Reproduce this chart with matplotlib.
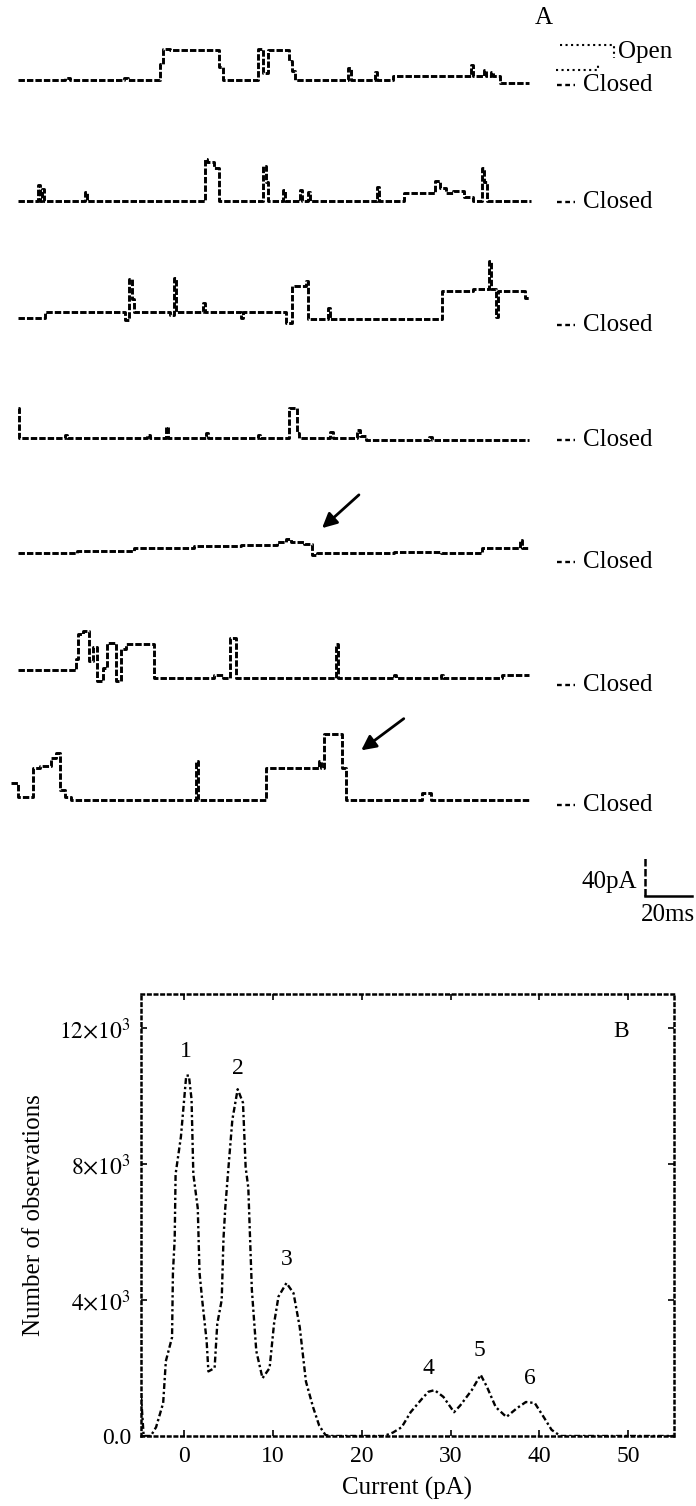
import matplotlib.pyplot as plt

plt.rcParams['font.family'] = ['Liberation Serif', 'DejaVu Serif']
plt.rcParams['mathtext.fontset'] = 'stix'

# ---- panel A: single channel traces (time in ms, current in pA above closed level)
t1 = [0, 20, 22, 45, 47, 60.4, 61.5, 64.7, 85.5, 87.2, 102.1, 104.3, 106.4, 115.3, 116.6,
      117.9, 140.4, 141.5, 151.9, 152.8, 159.6, 192.8, 193.6, 198.3, 199.2, 201.3, 202, 205.1, 217.4]
i1 = [-1, 1, -1, 1, -1, 15, 31, 30, 12, -1, 31, 6, 30, 18, 8,
      -1, 11, -1, 7, -1, 3, 14, 3, 9, 3, 7, 3, -4, -4]

t2 = [0, 8.5, 9.3, 10.2, 11, 28.5, 29.3, 79.6, 80.4, 83.4, 85.5, 104.3, 105.5, 106.4, 112.8,
      113.6, 120, 120.8, 123.4, 124.2, 152.8, 153.6, 164.3, 177.4, 179.6, 182.1, 185.1, 189.8,
      193.6, 197.4, 198.3, 199.6, 218.3]
i2 = [0, 16, 0, 12, 0, 9, 0, 43, 40, 34, 0, 36, 20, 0, 11,
      0, 11, 0, 9, 0, 14, 0, 8, 21, 13, 8, 10, 4,
      0, 34, 20, 0, 0]

t3 = [0, 11.5, 45.5, 47.2, 48.5, 49.4, 64.7, 66.4, 67.2, 78.7, 79.5, 94.9, 95.7, 114, 116.6,
      122.6, 123.4, 131.9, 132.8, 180.4, 193.6, 200.4, 201.3, 203.4, 204.4, 215.7, 217.4]
i3 = [0, 6, -2, 40, 20, 6, 3, 41, 6, 15, 6, 0, 6, -5, 33,
      38, -1, 10, -1, 28, 30, 58, 30, 1, 28, 21, 21]

t4 = [0, 0.6, 20, 20.8, 55, 56, 63, 63.8, 80, 81, 102, 103, 115.3, 118.7, 119.5, 132.8, 134,
      144.3, 145.5, 148.1, 175, 176, 217.4]
i4 = [31, 0, 3, 0, 3, 0, 11, 0, 5, 0, 3, 0, 31, 5, 0, 6, 0,
      8, 2, -2, 1, -2, -2]

t5 = [0, 25, 49.4, 75, 95, 110.2, 114, 116, 121.7, 125.1, 127.2, 160, 180, 197.4, 213.6, 214.4, 217.4]
i5 = [0, 2, 5, 7, 8, 11, 14, 11, 9, -2, 0, 1, 0, 5, 13, 5, 5]

t6 = [0, 24.7, 25.5, 27.7, 30.2, 31.9, 33.6, 36.2, 37.9, 41.7, 43.8, 46, 57.9, 83.4, 87.2,
      90.2, 92.8, 135.3, 136.2, 160, 161, 180, 181, 206, 217.4]
i6 = [8, 20, 45, 48, 17, 32, -3, 10, 36, -3, 30, 35, 0, 3, 0,
      41, 0, 35, 0, 3, 0, 3, 0, 3, 3]

t7 = [-3.0, 0, 5.5, 6.4, 9.4, 14, 16.2, 17.9, 20, 22.6, 75.7, 76.6, 105.5, 128.1, 128.9,
      130.2, 137.9, 139.6, 171.9, 175.7, 217.4]
i7 = [17, 3, 3, 33, 35, 43, 48, 10, 3, 0, 40, 0, 33, 40, 33,
      68, 33, 0, 7, 0, 0]

traces = [(t1, i1), (t2, i2), (t3, i3), (t4, i4), (t5, i5), (t6, i6), (t7, i7)]
closed_label_y = [85, 202, 325, 440, 562, 685, 805]   # pixel rows of the "Closed" labels
trace_base = [883.1, 757.9, 637.9, 514.9, 396.9, 268.7, 143.6]  # vertical offset of each trace

# ---- panel B: amplitude histogram (current in pA, counts)
cur = [-4.9, -4.6, -3.8, -3.2, -2.4, -2.1, -1.4, -1.3, -1.1, -1.0, -0.4, -0.2, 0.2, 0.5, 0.8,
       1.0, 1.5, 1.7, 2.0, 2.5, 2.7, 3.4, 3.7, 4.2, 4.4, 4.6, 4.9, 5.4, 6.0, 6.6,
       6.9, 7.2, 7.4, 7.6, 8.1, 8.8, 9.6, 10.1, 10.6, 11.5, 12.3, 13.0, 13.7, 14.5, 15.2,
       15.9, 16.5, 22.5, 23.5, 24.5, 25.5, 26.8, 27.5, 28.2, 29.2, 30.4, 31.1, 32.4, 33.4, 34.1,
       35.1, 36.3, 37.5, 38.5, 39.5, 40.5, 41.4, 42.4, 55.2]
counts = [1200, 0, 0, 260, 970, 2200, 2900, 4800, 5800, 7700, 8800, 9400, 10600, 10600, 9900,
          7700, 6700, 4800, 4000, 2800, 1900, 2000, 3300, 4000, 5800, 6700, 7700, 9300, 10200, 9800,
          7900, 7300, 5800, 4300, 2500, 1700, 2000, 3300, 4100, 4500, 4200, 3200, 1600, 850, 300,
          30, 0, 0, 100, 260, 700, 1100, 1300, 1350, 1150, 700, 900, 1350, 1800, 1450,
          850, 560, 820, 1000, 970, 560, 180, 0, 0]
peak_names = ['1', '2', '3', '4', '5', '6']
peak_x = [0.2, 6.0, 11.5, 27.5, 33.3, 38.9]
peak_y = [11300, 10800, 5200, 2000, 2500, 1700]
yticks = [0, 4000, 8000, 12000]
yticklabels = ['0.0', r'$4{\times}10^3$', r'$8{\times}10^3$', r'$12{\times}10^3$']
xticks = [0, 10, 20, 30, 40, 50]

W, H = 696, 1506
fig = plt.figure(figsize=(W / 100, H / 100), dpi=100)

# panel A axes: x in ms, y in pA (2.35 px per ms, 0.975 px per pA)
axA = fig.add_axes([0, 1 - 940 / H, 1, 940 / H])
axA.set_xlim(-18 / 2.35, (W - 18) / 2.35)
axA.set_ylim(0, 940 / 0.975)
axA.axis('off')
for (t, cur_i), base in zip(traces, trace_base):
    axA.step(t, [v + base for v in cur_i], where='post', color='black', lw=2.1,
             linestyle=(0, (2.2, 0.7)))

# scale bar 40 pA / 20 ms
sb_t, sb_y = 266.8, 45.1
axA.plot([sb_t, sb_t], [sb_y, sb_y + 40], color='black', lw=1.8, linestyle=(0, (3, 1)))
axA.plot([sb_t, sb_t + 20], [sb_y, sb_y], color='black', lw=1.8)

# pixel overlay for labels
lay = fig.add_axes([0, 0, 1, 1])
lay.set_xlim(0, W)
lay.set_ylim(H, 0)
lay.axis('off')

fs = 18
lay.text(544, 18, 'A', fontsize=fs, ha='center', va='center')
lay.plot([560, 614, 614], [45, 45, 58], color='black', lw=1.5, linestyle=':')
lay.plot([556, 598, 598], [70, 70, 63], color='black', lw=1.5, linestyle=':')
lay.text(618, 52, 'Open', fontsize=fs, va='center')
for yy in closed_label_y:
    lay.plot([557, 575], [yy, yy], color='black', lw=1.7, linestyle=(0, (2, 1.5)))
    lay.text(583, yy, 'Closed', fontsize=fs, va='center')

lay.annotate('', xy=(320, 530), xytext=(361, 493),
             arrowprops=dict(arrowstyle='-|>', color='black', lw=2, mutation_scale=22))
lay.annotate('', xy=(359, 752), xytext=(406, 717),
             arrowprops=dict(arrowstyle='-|>', color='black', lw=2, mutation_scale=22))
lay.text(637, 882, '40pA', fontsize=fs, ha='right', va='center')
lay.text(668, 915, '20ms', fontsize=fs, ha='center', va='center')

# panel B
axB = fig.add_axes([141 / W, (H - 1436) / H, 533 / W, 442 / H])
axB.plot(cur, counts, color='black', lw=1.7, linestyle=(0, (2.5, 1.2, 1, 1.2)))
axB.set_xlim(-4.9, 55.2)
axB.set_ylim(0, 13000)
axB.set_xticks(xticks)
axB.set_yticks(yticks)
axB.set_yticklabels(yticklabels)
axB.tick_params(direction='in', length=4, width=1.2, top=True, right=True,
                labelsize=17, pad=7)
for sp in axB.spines.values():
    sp.set_linestyle(':')
    sp.set_linewidth(1.8)
axB.set_xlabel('Current (pA)', fontsize=fs)
axB.set_ylabel('Number of observations', fontsize=fs)
axB.xaxis.set_label_coords(0.5, -0.092)
axB.yaxis.set_label_coords(-0.18, 0.5)
for name, px_, py_ in zip(peak_names, peak_x, peak_y):
    axB.text(px_, py_, name, fontsize=17, ha='center', va='center')
axB.text(49.2, 11900, 'B', fontsize=17, ha='center', va='center')

fig.savefig('out.png', dpi=100)
